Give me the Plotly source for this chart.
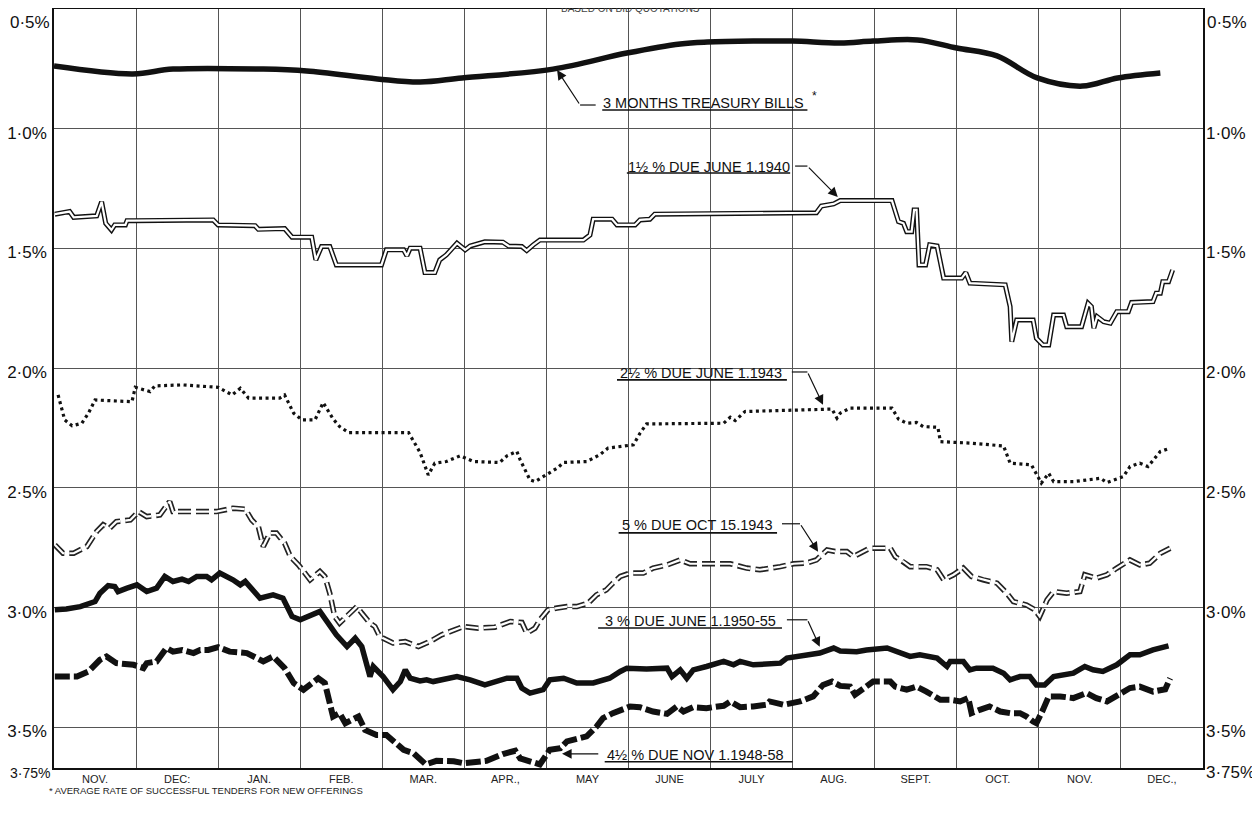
import plotly.graph_objects as go

# ---------------- data (x = months since start of Nov, y = yield %) ----------------
months = ["NOV.", "DEC:", "JAN.", "FEB.", "MAR.", "APR.,", "MAY", "JUNE", "JULY",
          "AUG.", "SEPT.", "OCT.", "NOV.", "DEC.,"]
ytick_vals = [0.5, 1.0, 1.5, 2.0, 2.5, 3.0, 3.5, 3.67]
ytick_text = ["0·5%", "1·0%", "1·5%", "2·0%", "2·5%", "3·0%", "3·5%", "3·75%"]

tb_x = [0, 0.96, 1.45, 2.55, 3.08, 3.94, 4.46, 4.97, 6.08, 6.98, 7.63, 7.96, 8.52, 9.0,
        9.58, 9.98, 10.52, 11.0, 11.49, 11.98, 12.53, 12.96, 13.48]
tb_y = [0.738, 0.771, 0.751, 0.751, 0.759, 0.792, 0.805, 0.788, 0.751, 0.684, 0.646, 0.638,
        0.634, 0.634, 0.642, 0.634, 0.629, 0.663, 0.696, 0.788, 0.822, 0.788, 0.767]

n40_x = [0.01, 0.19, 0.24, 0.52, 0.58, 0.63, 0.70, 0.74, 0.87, 0.89, 0.97, 1.94, 2.00, 2.45,
         2.49, 2.81, 2.90, 3.14, 3.19, 3.26, 3.36, 3.44, 3.99, 4.05, 4.26, 4.30, 4.34, 4.46,
         4.52, 4.64, 4.70, 4.78, 4.91, 5.01, 5.07, 5.25, 5.47, 5.54, 5.70, 5.76, 5.84, 5.92,
         6.45, 6.53, 6.57, 6.80, 6.86, 7.08, 7.14, 7.26, 7.32, 9.29, 9.35, 9.50, 9.58, 10.21,
         10.29, 10.35, 10.39, 10.45, 10.48, 10.51, 10.54, 10.62, 10.67, 10.76, 10.84, 11.06,
         11.11, 11.16, 11.59, 11.65, 11.67, 11.73, 11.93, 11.97, 12.05, 12.12, 12.18, 12.30,
         12.34, 12.52, 12.60, 12.64, 12.67, 12.71, 12.79, 12.87, 12.95, 13.09, 13.13, 13.39,
         13.43, 13.48, 13.51, 13.58, 13.63]
n40_y = [1.357, 1.346, 1.370, 1.364, 1.305, 1.395, 1.423, 1.402, 1.402, 1.384, 1.384, 1.381,
         1.402, 1.405, 1.420, 1.417, 1.453, 1.453, 1.548, 1.492, 1.492, 1.569, 1.569, 1.506,
         1.506, 1.531, 1.499, 1.499, 1.601, 1.601, 1.548, 1.527, 1.478, 1.506, 1.490, 1.472,
         1.474, 1.490, 1.492, 1.509, 1.485, 1.465, 1.465, 1.444, 1.378, 1.378, 1.402, 1.402,
         1.381, 1.378, 1.357, 1.351, 1.323, 1.314, 1.300, 1.300, 1.388, 1.395, 1.430, 1.430,
         1.339, 1.339, 1.569, 1.569, 1.485, 1.490, 1.624, 1.624, 1.601, 1.645, 1.652, 1.743,
         1.889, 1.799, 1.799, 1.875, 1.903, 1.903, 1.778, 1.778, 1.827, 1.827, 1.729, 1.743,
         1.833, 1.785, 1.806, 1.812, 1.764, 1.764, 1.726, 1.722, 1.687, 1.687, 1.639, 1.639,
         1.590]

n43_x = [0.05, 0.13, 0.22, 0.34, 0.42, 0.50, 0.95, 0.99, 1.17, 1.23, 1.56, 2.00, 2.17, 2.27,
         2.37, 2.75, 2.81, 2.92, 3.02, 3.18, 3.28, 3.40, 3.48, 3.59, 4.32, 4.46, 4.56, 4.64,
         4.78, 4.95, 5.11, 5.43, 5.52, 5.64, 5.68, 5.80, 5.86, 5.96, 6.13, 6.21, 6.49, 6.65,
         6.75, 7.06, 7.14, 7.22, 8.16, 8.24, 8.30, 8.42, 9.37, 9.48, 9.54, 9.58, 9.70, 10.21,
         10.29, 10.39, 10.51, 10.59, 10.77, 10.80, 11.16, 11.57, 11.65, 11.91, 12.03, 12.12,
         12.18, 12.42, 12.75, 12.83, 13.03, 13.11, 13.23, 13.33, 13.48, 13.60]
n43_y = [2.112, 2.216, 2.241, 2.230, 2.188, 2.133, 2.140, 2.080, 2.098, 2.074, 2.070, 2.080,
         2.112, 2.084, 2.125, 2.125, 2.112, 2.188, 2.216, 2.216, 2.144, 2.212, 2.244, 2.269,
         2.269, 2.352, 2.446, 2.397, 2.390, 2.366, 2.390, 2.394, 2.366, 2.348, 2.383, 2.467,
         2.474, 2.453, 2.418, 2.394, 2.390, 2.362, 2.334, 2.320, 2.272, 2.233, 2.230, 2.205,
         2.219, 2.181, 2.174, 2.171, 2.209, 2.188, 2.167, 2.167, 2.213, 2.230, 2.227, 2.244,
         2.247, 2.307, 2.313, 2.325, 2.397, 2.404, 2.480, 2.439, 2.474, 2.474, 2.460, 2.478,
         2.453, 2.411, 2.397, 2.411, 2.348, 2.334]

o43_x = [0.01, 0.05, 0.11, 0.24, 0.40, 0.52, 0.60, 0.68, 0.76, 0.93, 1.03, 1.13, 1.29, 1.41,
         1.45, 1.98, 2.18, 2.33, 2.41, 2.49, 2.55, 2.63, 2.71, 2.81, 2.88, 2.98, 3.12, 3.24,
         3.30, 3.36, 3.42, 3.48, 3.59, 3.69, 3.75, 3.85, 3.91, 3.97, 4.13, 4.28, 4.44, 4.58,
         4.72, 4.87, 4.99, 5.17, 5.37, 5.56, 5.70, 5.76, 5.86, 5.92, 6.02, 6.13, 6.25, 6.37,
         6.51, 6.61, 6.73, 6.81, 6.90, 7.02, 7.18, 7.30, 7.47, 7.63, 7.75, 7.95, 8.24, 8.44,
         8.60, 8.85, 9.01, 9.17, 9.29, 9.42, 9.52, 9.66, 9.74, 9.94, 10.19, 10.25, 10.35,
         10.43, 10.63, 10.76, 10.84, 10.96, 11.08, 11.18, 11.32, 11.49, 11.61, 11.69, 11.85,
         11.95, 12.01, 12.10, 12.18, 12.34, 12.50, 12.56, 12.70, 12.83, 12.95, 13.11, 13.23,
         13.35, 13.48, 13.60]
o43_y = [2.738, 2.752, 2.773, 2.773, 2.745, 2.682, 2.654, 2.668, 2.641, 2.634, 2.599, 2.620,
         2.613, 2.557, 2.599, 2.599, 2.585, 2.589, 2.634, 2.662, 2.745, 2.689, 2.689, 2.731,
         2.787, 2.822, 2.884, 2.849, 2.870, 2.940, 3.037, 3.065, 3.030, 2.996, 3.023, 3.065,
         3.079, 3.121, 3.148, 3.142, 3.163, 3.142, 3.114, 3.093, 3.079, 3.086, 3.082, 3.058,
         3.062, 3.107, 3.086, 3.051, 3.009, 3.002, 2.996, 2.996, 2.981, 2.947, 2.926, 2.898,
         2.870, 2.856, 2.856, 2.835, 2.822, 2.801, 2.817, 2.817, 2.817, 2.835, 2.842, 2.829,
         2.817, 2.814, 2.801, 2.759, 2.766, 2.766, 2.787, 2.752, 2.752, 2.787, 2.808, 2.829,
         2.829, 2.842, 2.884, 2.863, 2.835, 2.870, 2.884, 2.898, 2.940, 2.975, 2.989, 3.009,
         3.037, 2.968, 2.933, 2.940, 2.933, 2.863, 2.877, 2.863, 2.835, 2.801, 2.822, 2.815,
         2.773, 2.752]

n55_x = [0.01, 0.15, 0.32, 0.50, 0.56, 0.66, 0.74, 0.78, 0.89, 1.01, 1.13, 1.25, 1.35, 1.45,
         1.56, 1.64, 1.74, 1.86, 1.92, 2.02, 2.18, 2.27, 2.33, 2.51, 2.67, 2.79, 2.90, 3.00,
         3.24, 3.40, 3.44, 3.57, 3.67, 3.75, 3.81, 3.85, 3.89, 4.01, 4.13, 4.22, 4.28, 4.34,
         4.46, 4.54, 4.62, 4.91, 5.07, 5.25, 5.52, 5.64, 5.70, 5.80, 5.96, 6.04, 6.21, 6.37,
         6.57, 6.77, 6.90, 6.98, 7.22, 7.47, 7.53, 7.63, 7.71, 7.79, 7.95, 8.16, 8.28, 8.36,
         8.52, 8.85, 8.93, 9.33, 9.50, 9.58, 9.78, 9.90, 10.15, 10.31, 10.43, 10.55, 10.76,
         10.88, 10.92, 11.08, 11.16, 11.24, 11.44, 11.57, 11.65, 11.77, 11.89, 11.97, 12.07,
         12.18, 12.42, 12.56, 12.66, 12.78, 12.95, 13.11, 13.23, 13.39, 13.58]
n55_y = [3.009, 3.006, 2.996, 2.975, 2.940, 2.908, 2.912, 2.933, 2.919, 2.905, 2.933, 2.919,
         2.870, 2.891, 2.881, 2.891, 2.870, 2.870, 2.884, 2.856, 2.884, 2.905, 2.891, 2.961,
         2.947, 2.961, 3.037, 3.051, 3.016, 3.093, 3.114, 3.163, 3.128, 3.163, 3.246, 3.288,
         3.246, 3.288, 3.343, 3.309, 3.260, 3.295, 3.306, 3.302, 3.309, 3.288, 3.302, 3.323,
         3.295, 3.295, 3.336, 3.357, 3.343, 3.302, 3.295, 3.315, 3.315, 3.295, 3.267, 3.253,
         3.257, 3.253, 3.288, 3.260, 3.295, 3.260, 3.246, 3.225, 3.239, 3.225, 3.239, 3.232,
         3.211, 3.190, 3.169, 3.181, 3.184, 3.177, 3.169, 3.190, 3.204, 3.197, 3.211, 3.246,
         3.225, 3.225, 3.260, 3.253, 3.253, 3.274, 3.302, 3.288, 3.288, 3.323, 3.323, 3.288,
         3.274, 3.246, 3.260, 3.267, 3.239, 3.197, 3.197, 3.177, 3.160]

n58_x = [0.01, 0.28, 0.42, 0.56, 0.64, 0.76, 0.97, 1.09, 1.13, 1.25, 1.37, 1.45, 1.56, 1.70,
         1.78, 1.88, 2.00, 2.14, 2.35, 2.55, 2.67, 2.81, 2.92, 3.04, 3.22, 3.30, 3.40, 3.48,
         3.55, 3.71, 3.79, 3.93, 4.05, 4.13, 4.26, 4.38, 4.46, 4.53, 4.66, 4.87, 4.99, 5.27,
         5.47, 5.62, 5.68, 5.80, 5.92, 5.98, 6.04, 6.17, 6.25, 6.41, 6.49, 6.61, 6.69, 6.81,
         6.90, 7.02, 7.14, 7.30, 7.47, 7.59, 7.67, 7.79, 7.95, 8.16, 8.24, 8.36, 8.52, 8.68,
         8.72, 8.89, 9.09, 9.25, 9.37, 9.48, 9.58, 9.70, 9.76, 9.86, 9.98, 10.19, 10.25, 10.39,
         10.51, 10.63, 10.80, 10.92, 11.04, 11.14, 11.18, 11.28, 11.40, 11.53, 11.65, 11.77,
         11.85, 11.93, 11.97, 12.05, 12.12, 12.26, 12.42, 12.58, 12.70, 12.83, 12.95, 13.11,
         13.23, 13.39, 13.54, 13.60]
n58_y = [3.288, 3.288, 3.267, 3.218, 3.204, 3.232, 3.239, 3.253, 3.232, 3.225, 3.169, 3.184,
         3.177, 3.190, 3.177, 3.177, 3.165, 3.184, 3.190, 3.225, 3.204, 3.253, 3.315, 3.343,
         3.295, 3.315, 3.455, 3.441, 3.483, 3.455, 3.511, 3.532, 3.532, 3.559, 3.594, 3.608,
         3.630, 3.655, 3.640, 3.642, 3.650, 3.640, 3.612, 3.598, 3.630, 3.645, 3.655, 3.625,
         3.594, 3.587, 3.559, 3.545, 3.538, 3.497, 3.462, 3.441, 3.427, 3.413, 3.416, 3.434,
         3.444, 3.413, 3.434, 3.416, 3.420, 3.410, 3.392, 3.416, 3.413, 3.406, 3.392, 3.406,
         3.392, 3.371, 3.323, 3.309, 3.327, 3.330, 3.364, 3.336, 3.309, 3.309, 3.330, 3.343,
         3.330, 3.351, 3.385, 3.385, 3.392, 3.378, 3.441, 3.427, 3.413, 3.434, 3.441, 3.441,
         3.455, 3.476, 3.483, 3.427, 3.371, 3.371, 3.378, 3.357, 3.378, 3.392, 3.371, 3.336,
         3.330, 3.351, 3.341, 3.295]

# ---------------- figure ----------------
# the page's default 8px body margin offsets the figure, so the figure is 8px smaller
Y_TOP, Y_BOT = 0.5, 3.67
X_MAX = len(months)
FONT = "Liberation Sans"

fig = go.Figure()

def add_line(x, y, color, width, dash="solid", shape="linear"):
    fig.add_trace(go.Scatter(x=x, y=y, mode="lines", hoverinfo="skip", showlegend=False,
                             line=dict(color=color, width=width, dash=dash, shape=shape)))

# 3 months treasury bills
add_line(tb_x, tb_y, "#111", 5.5, shape="spline")
# 1 1/2 % due June 1 1940 (double line)
add_line(n40_x, n40_y, "#111", 5)
add_line(n40_x, n40_y, "white", 2.2)
# 2 1/2 % due June 1 1943 (dotted)
add_line(n43_x, n43_y, "#111", 3.2, dash="3px,3.5px")
# 5 % due Oct 15 1943 (outlined dashes)
add_line(o43_x, o43_y, "#222", 5.5, dash="13px,5px")
add_line(o43_x, o43_y, "white", 2.2, dash="13px,5px")
# 3 % due June 1 1950-55
add_line(n55_x, n55_y, "#111", 5.5)
# 4 1/2 % due Nov 1 1948-58 (heavy dashes)
add_line(n58_x, n58_y, "#111", 6, dash="15px,4px")

# helper traces for secondary axes (invisible)
fig.add_trace(go.Scatter(x=[0, X_MAX], y=[Y_TOP, Y_TOP], xaxis="x2", mode="markers",
                         marker=dict(opacity=0), hoverinfo="skip", showlegend=False))
fig.add_trace(go.Scatter(x=[0, X_MAX], y=[Y_TOP, Y_TOP], yaxis="y2", mode="markers",
                         marker=dict(opacity=0), hoverinfo="skip", showlegend=False))

# left axis: top and bottom labels are drawn as annotations (placed like the original)
left_ticks = [""] + ytick_text[1:-1] + [""]
right_ticks = [""] + ytick_text[1:]

grid_col = "#555"
ytick_font = dict(size=17, family=FONT, color="#111")
fig.update_layout(
    width=1252, height=816,
    margin=dict(l=46, r=57, t=1, b=56, autoexpand=False),
    paper_bgcolor="white", plot_bgcolor="white",
    showlegend=False,
    font=dict(family=FONT, color="#111"),
    xaxis=dict(range=[0, X_MAX], dtick=1, tick0=0, showgrid=True, gridcolor=grid_col,
               gridwidth=1, showticklabels=False, ticks="", zeroline=False, automargin=False,
               showline=True, linecolor="#111", linewidth=1.5, mirror=True),
    xaxis2=dict(overlaying="x", side="bottom", range=[0, X_MAX], automargin=False,
                tickvals=[i + 0.5 for i in range(X_MAX)], ticktext=months,
                showgrid=False, ticks="", zeroline=False, showline=False,
                ticklabelstandoff=3,
                tickfont=dict(size=11, family=FONT, color="#222")),
    yaxis=dict(range=[Y_BOT, Y_TOP], tickvals=ytick_vals, ticktext=left_ticks,
               showgrid=True, gridcolor=grid_col, gridwidth=1, ticks="", zeroline=False,
               showline=True, linecolor="#111", linewidth=1.5, mirror=True, automargin=False,
               tickfont=ytick_font, ticklabelstandoff=2, ticklabelshift=-4,
               ticklabeloverflow="allow"),
    yaxis2=dict(overlaying="y", side="right", range=[Y_BOT, Y_TOP], tickvals=ytick_vals,
                ticktext=right_ticks, showgrid=False, ticks="",
                zeroline=False, showline=False, automargin=False, tickfont=ytick_font,
                ticklabelstandoff=2, ticklabelshift=-4, ticklabeloverflow="allow"),
)

# top tick labels (0·5%) on both sides, bottom-left 3·75%
fig.add_annotation(xref="paper", x=0, y=Y_TOP, xanchor="right", yanchor="middle", xshift=-2,
                   yshift=-13, showarrow=False, text=ytick_text[0], font=ytick_font)
fig.add_annotation(xref="paper", x=1, y=Y_TOP, xanchor="left", yanchor="middle", xshift=2,
                   yshift=-13, showarrow=False, text=ytick_text[0], font=ytick_font)
fig.add_annotation(xref="paper", x=0, y=Y_BOT, xanchor="right", yanchor="middle", xshift=-2,
                   yshift=-5, showarrow=False, text=ytick_text[-1],
                   font=dict(size=14, family=FONT, color="#111"))

# ---------------- labels with underlines and leader arrows ----------------
labels = [
    # text, text x, text y, underline x0, x1, underline y, elbow x, elbow y, tip x, tip y, leader end x
    ("3 MONTHS TREASURY BILLS", 7.91, 0.892, 6.68, 9.18, 0.922, 6.41, 0.901, 6.13, 0.755, 6.60),
    ("1½ % DUE JUNE 1.1940", 7.98, 1.160, 6.98, 8.97, 1.185, 9.18, 1.156, 9.55, 1.285, 9.03),
    ("2½ % DUE JUNE 1.1943", 7.88, 2.019, 6.86, 8.93, 2.049, 9.18, 2.016, 9.37, 2.153, 8.99),
    ("5 % DUE OCT 15.1943", 7.84, 2.655, 6.88, 8.81, 2.688, 9.09, 2.650, 9.31, 2.767, 8.87),
    ("3 % DUE JUNE 1.1950-55", 7.75, 3.054, 6.63, 8.87, 3.085, 9.18, 3.051, 9.33, 3.164, 8.93),
    ("4½ % DUE NOV 1.1948-58", 7.82, 3.615, 6.71, 9.00, 3.644, 6.65, 3.611, 6.19, 3.611, 6.65),
]
for (txt, tx, ty, ux0, ux1, uy, ex, ey, px_, py_, lx) in labels:
    fig.add_annotation(x=tx, y=ty, text=txt, showarrow=False, xanchor="center",
                       yanchor="middle", font=dict(size=14.5, family=FONT, color="#111"))
    fig.add_shape(type="line", x0=ux0, x1=ux1, y0=uy, y1=uy,
                  line=dict(color="#111", width=1.6))
    fig.add_shape(type="line", x0=lx, x1=ex, y0=ey, y1=ey,
                  line=dict(color="#111", width=1.2))
    fig.add_annotation(x=px_, y=py_, ax=ex, ay=ey, axref="x", ayref="y", text="",
                       showarrow=True, arrowhead=2, arrowsize=1.6, arrowwidth=1.2,
                       arrowcolor="#111")

# asterisk on treasury bills label
fig.add_annotation(x=9.27, y=0.863, text="*", showarrow=False,
                   font=dict(size=12, family=FONT, color="#111"))

# footnote
fig.add_annotation(xref="paper", yref="paper", x=-0.006, y=-0.029, xanchor="left",
                   yanchor="middle", showarrow=False,
                   text="* AVERAGE RATE OF SUCCESSFUL TENDERS FOR NEW OFFERINGS",
                   font=dict(size=9.5, family=FONT, color="#222"))

# heading at very top (cut off by the page edge in the original)
fig.add_annotation(xref="paper", yref="paper", x=0.502, y=1.0013, xanchor="center",
                   yanchor="middle", showarrow=False, text="BASED ON BID QUOTATIONS",
                   font=dict(size=10, family=FONT, color="#444"))

fig.write_html("out.html")
